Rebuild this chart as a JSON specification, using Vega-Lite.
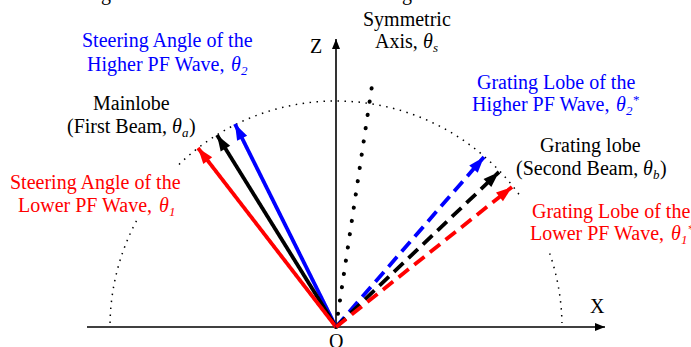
{
  "$schema": "https://vega.github.io/schema/vega-lite/v6.json",
  "width": 691,
  "height": 347,
  "autosize": {"type": "none"},
  "padding": 0,
  "background": "white",
  "config": {"view": {"stroke": null}},
  "datasets": {
    "beams": [
      {"wave": "higher", "kind": "steering", "x": -101, "y": 203, "angle": 333.5},
      {"wave": "main", "kind": "steering", "x": -119, "y": 192, "angle": 328.2},
      {"wave": "lower", "kind": "steering", "x": -138, "y": 179, "angle": 322.4},
      {"wave": "higher", "kind": "grating", "x": 148, "y": 170, "angle": 41.0},
      {"wave": "main", "kind": "grating", "x": 163, "y": 155, "angle": 46.4},
      {"wave": "lower", "kind": "grating", "x": 176, "y": 140, "angle": 51.5}
    ],
    "axes": [
      {"name": "X", "x0": -249, "y0": 0, "x": 269, "y": 0, "angle": 90},
      {"name": "Z", "x0": 0, "y0": 0, "x": 0, "y": 288, "angle": 0}
    ],
    "symaxis": [
      {"x0": 0, "y0": 0, "x": 37, "y": 248}
    ],
    "center": [
      {"x": 0, "y": 0}
    ],
    "texts": [
      {"wave": "main", "part": "text", "text": "g", "x": -235, "y": 327},
      {"wave": "main", "part": "text", "text": "g", "x": 66, "y": 327},
      {"wave": "higher", "part": "text", "text": "Steering Angle of the", "x": -254, "y": 280},
      {"wave": "higher", "part": "text", "text": "Higher PF Wave,", "x": -249, "y": 256},
      {"wave": "higher", "part": "sym", "text": "θ", "x": -105, "y": 256},
      {"wave": "higher", "part": "sub", "text": "2", "x": -95, "y": 252},
      {"wave": "main", "part": "text", "text": "Mainlobe", "x": -243, "y": 217},
      {"wave": "main", "part": "text", "text": "(First Beam,", "x": -269, "y": 194},
      {"wave": "main", "part": "sym", "text": "θ", "x": -164, "y": 194},
      {"wave": "main", "part": "sub", "text": "a", "x": -154, "y": 190},
      {"wave": "main", "part": "text", "text": ")", "x": -147, "y": 194},
      {"wave": "lower", "part": "text", "text": "Steering Angle of the", "x": -326, "y": 138},
      {"wave": "lower", "part": "text", "text": "Lower PF Wave,", "x": -318, "y": 115},
      {"wave": "lower", "part": "sym", "text": "θ", "x": -177, "y": 115},
      {"wave": "lower", "part": "sub", "text": "1", "x": -167, "y": 111},
      {"wave": "main", "part": "text", "text": "Symmetric", "x": 27, "y": 301},
      {"wave": "main", "part": "text", "text": "Axis,", "x": 39, "y": 279},
      {"wave": "main", "part": "sym", "text": "θ", "x": 87, "y": 279},
      {"wave": "main", "part": "sub", "text": "s", "x": 97, "y": 275},
      {"wave": "higher", "part": "text", "text": "Grating Lobe of the", "x": 141, "y": 238},
      {"wave": "higher", "part": "text", "text": "Higher PF Wave,", "x": 136, "y": 216},
      {"wave": "higher", "part": "sym", "text": "θ", "x": 280, "y": 216},
      {"wave": "higher", "part": "sub", "text": "2", "x": 290, "y": 212},
      {"wave": "higher", "part": "sup", "text": "*", "x": 297, "y": 223},
      {"wave": "main", "part": "text", "text": "Grating lobe", "x": 204, "y": 175},
      {"wave": "main", "part": "text", "text": "(Second Beam,", "x": 180, "y": 152},
      {"wave": "main", "part": "sym", "text": "θ", "x": 307, "y": 152},
      {"wave": "main", "part": "sub", "text": "b", "x": 317, "y": 148},
      {"wave": "main", "part": "text", "text": ")", "x": 324, "y": 152},
      {"wave": "lower", "part": "text", "text": "Grating Lobe of the", "x": 196, "y": 109},
      {"wave": "lower", "part": "text", "text": "Lower PF Wave,", "x": 194, "y": 87},
      {"wave": "lower", "part": "sym", "text": "θ", "x": 335, "y": 87},
      {"wave": "lower", "part": "sub", "text": "1", "x": 345, "y": 83},
      {"wave": "lower", "part": "sup", "text": "*", "x": 352, "y": 94},
      {"wave": "main", "part": "text", "text": "Z", "x": -26, "y": 274},
      {"wave": "main", "part": "text", "text": "X", "x": 254, "y": 14},
      {"wave": "main", "part": "text", "text": "O", "x": -7, "y": -21}
    ]
  },
  "encoding": {
    "x": {"field": "x", "type": "quantitative", "axis": null, "scale": {"domain": [-336, 355], "nice": false, "zero": false}},
    "y": {"field": "y", "type": "quantitative", "axis": null, "scale": {"domain": [-20, 327], "nice": false, "zero": false}}
  },
  "layer": [
    {
      "data": {"name": "center"},
      "mark": {
        "type": "point",
        "shape": "M-0.9998,-0.0175A1,1 0 0 1 -0.8829,-0.4695M-0.6947,-0.7193A1,1 0 0 1 0.8192,-0.5736M0.9455,-0.3256A1,1 0 0 1 0.9998,-0.0175",
        "size": 204304,
        "filled": false,
        "stroke": "#000000",
        "strokeWidth": 1.5,
        "strokeDash": [1.5, 5.5],
        "opacity": 1
      }
    },
    {
      "data": {"name": "axes"},
      "mark": {"type": "rule", "color": "#000000", "strokeWidth": 1.6},
      "encoding": {
        "x": {"field": "x0", "type": "quantitative"},
        "y": {"field": "y0", "type": "quantitative"},
        "x2": {"field": "x"},
        "y2": {"field": "y"}
      }
    },
    {
      "data": {"name": "axes"},
      "mark": {"type": "point", "shape": "M0,0L-0.4,1L0.4,1Z", "size": 400, "filled": true, "color": "#000000", "opacity": 1},
      "encoding": {
        "angle": {"field": "angle", "type": "quantitative", "scale": null}
      }
    },
    {
      "data": {"name": "symaxis"},
      "mark": {"type": "rule", "color": "#000000", "strokeWidth": 4, "strokeCap": "round", "strokeDash": [0.1, 13.3]},
      "encoding": {
        "x": {"field": "x0", "type": "quantitative"},
        "y": {"field": "y0", "type": "quantitative"},
        "x2": {"field": "x"},
        "y2": {"field": "y"}
      }
    },
    {
      "data": {"name": "beams"},
      "mark": {"type": "rule", "strokeWidth": 3.8},
      "encoding": {
        "x": {"datum": 0, "type": "quantitative"},
        "y": {"datum": 0, "type": "quantitative"},
        "x2": {"field": "x"},
        "y2": {"field": "y"},
        "color": {"field": "wave", "type": "nominal", "scale": {"domain": ["lower", "main", "higher"], "range": ["#ff0000", "#000000", "#0000ff"]}, "legend": null},
        "strokeDash": {"field": "kind", "type": "nominal", "scale": {"domain": ["steering", "grating"], "range": [[1, 0], [13, 7]]}, "legend": null}
      }
    },
    {
      "data": {"name": "beams"},
      "mark": {"type": "point", "shape": "M0,0L-0.35,1L0.35,1Z", "size": 1024, "filled": true, "opacity": 1},
      "encoding": {
        "angle": {"field": "angle", "type": "quantitative", "scale": null},
        "color": {"field": "wave", "type": "nominal", "legend": null}
      }
    },
    {
      "data": {"name": "texts"},
      "transform": [{"filter": "datum.part === 'text'"}],
      "mark": {"type": "text", "align": "left", "baseline": "alphabetic", "font": "Liberation Serif", "fontSize": 20},
      "encoding": {
        "text": {"field": "text"},
        "color": {"field": "wave", "type": "nominal", "legend": null}
      }
    },
    {
      "data": {"name": "texts"},
      "transform": [{"filter": "datum.part === 'sym'"}],
      "mark": {"type": "text", "align": "left", "baseline": "alphabetic", "font": "Liberation Serif", "fontSize": 20, "fontStyle": "italic"},
      "encoding": {
        "text": {"field": "text"},
        "color": {"field": "wave", "type": "nominal", "legend": null}
      }
    },
    {
      "data": {"name": "texts"},
      "transform": [{"filter": "datum.part === 'sub'"}],
      "mark": {"type": "text", "align": "left", "baseline": "alphabetic", "font": "Liberation Serif", "fontSize": 13, "fontStyle": "italic"},
      "encoding": {
        "text": {"field": "text"},
        "color": {"field": "wave", "type": "nominal", "legend": null}
      }
    },
    {
      "data": {"name": "texts"},
      "transform": [{"filter": "datum.part === 'sup'"}],
      "mark": {"type": "text", "align": "left", "baseline": "alphabetic", "font": "Liberation Serif", "fontSize": 13},
      "encoding": {
        "text": {"field": "text"},
        "color": {"field": "wave", "type": "nominal", "legend": null}
      }
    }
  ]
}
